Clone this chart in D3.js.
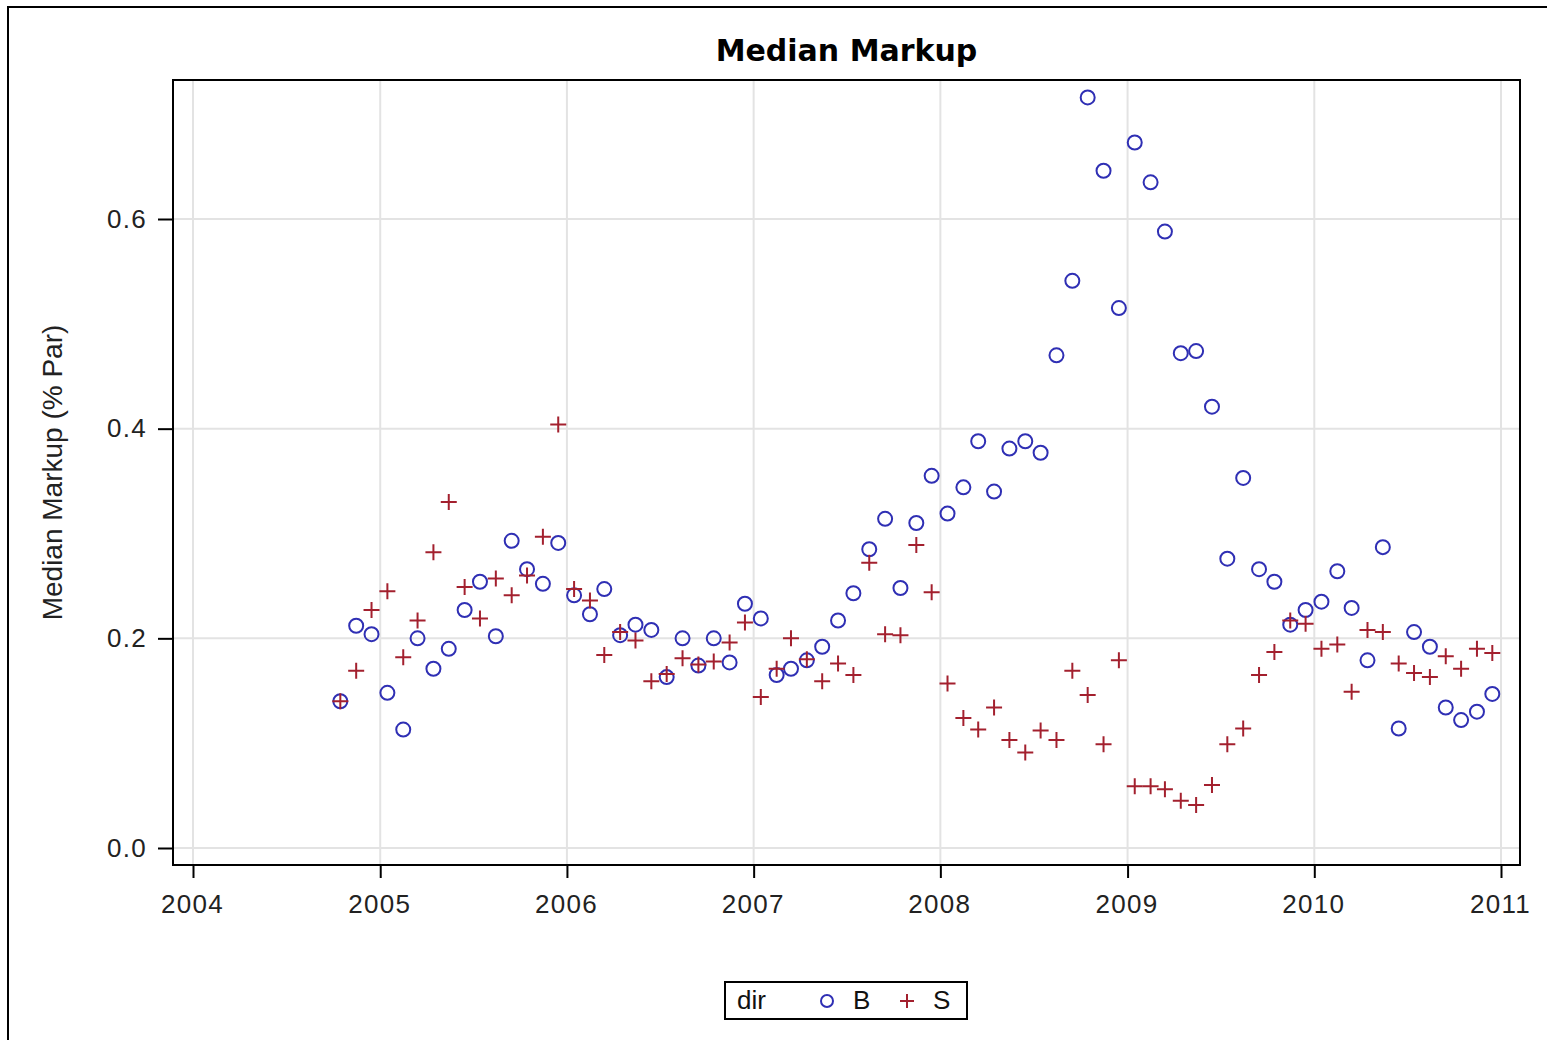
<!DOCTYPE html>
<html>
<head>
<meta charset="utf-8">
<script src="https://cdn.jsdelivr.net/npm/d3@7"></script>
<style>
  html, body { margin: 0; padding: 0; background: #fff; }
  svg { display: block; font-family: "Liberation Sans", Arial, sans-serif; }
</style>
</head>
<body>
<svg id="chart" width="1547" height="1040"></svg>
<script>
// Monthly observation dates (mid-month)
const months = [
  "2004-10","2004-11","2004-12",
  "2005-01","2005-02","2005-03","2005-04","2005-05","2005-06","2005-07","2005-08","2005-09","2005-10","2005-11","2005-12",
  "2006-01","2006-02","2006-03","2006-04","2006-05","2006-06","2006-07","2006-08","2006-09","2006-10","2006-11","2006-12",
  "2007-01","2007-02","2007-03","2007-04","2007-05","2007-06","2007-07","2007-08","2007-09","2007-10","2007-11","2007-12",
  "2008-01","2008-02","2008-03","2008-04","2008-05","2008-06","2008-07","2008-08","2008-09","2008-10","2008-11","2008-12",
  "2009-01","2009-02","2009-03","2009-04","2009-05","2009-06","2009-07","2009-08","2009-09","2009-10","2009-11","2009-12",
  "2010-01","2010-02","2010-03","2010-04","2010-05","2010-06","2010-07","2010-08","2010-09","2010-10","2010-11","2010-12"
];

// Median markup, buy side (B)
const buyMarkup = [
  0.140, 0.212, 0.204,
  0.148, 0.113, 0.200, 0.171, 0.190, 0.227, 0.254, 0.202, 0.293, 0.266, 0.252, 0.291,
  0.241, 0.223, 0.247, 0.203, 0.213, 0.208, 0.163, 0.200, 0.174, 0.200, 0.177, 0.233,
  0.219, 0.165, 0.171, 0.179, 0.192, 0.217, 0.243, 0.285, 0.314, 0.248, 0.310, 0.355,
  0.319, 0.344, 0.388, 0.340, 0.381, 0.388, 0.377, 0.470, 0.541, 0.716, 0.646, 0.515,
  0.673, 0.635, 0.588, 0.472, 0.474, 0.421, 0.276, 0.353, 0.266, 0.254, 0.213, 0.227,
  0.235, 0.264, 0.229, 0.179, 0.287, 0.114, 0.206, 0.192, 0.134, 0.122, 0.130, 0.147
];

// Median markup, sell side (S)
const sellMarkup = [
  0.140, 0.169, 0.227,
  0.245, 0.182, 0.217, 0.282, 0.330, 0.249, 0.219, 0.257, 0.241, 0.260, 0.297, 0.404,
  0.247, 0.236, 0.184, 0.206, 0.198, 0.159, 0.166, 0.181, 0.175, 0.178, 0.196, 0.215,
  0.144, 0.171, 0.200, 0.180, 0.159, 0.176, 0.165, 0.272, 0.204, 0.203, 0.289, 0.244,
  0.157, 0.124, 0.113, 0.134, 0.103, 0.091, 0.112, 0.103, 0.169, 0.146, 0.099, 0.179,
  0.059, 0.059, 0.056, 0.045, 0.041, 0.060, 0.099, 0.114, 0.165, 0.187, 0.217, 0.214,
  0.190, 0.194, 0.149, 0.208, 0.206, 0.176, 0.167, 0.163, 0.183, 0.171, 0.190, 0.186
];

const xTickYears = [2004, 2005, 2006, 2007, 2008, 2009, 2010, 2011];
const yTickValues = [0.0, 0.2, 0.4, 0.6];
const legendTitle = "dir";
const seriesNames = ["B", "S"];

const BLUE = "#2f2fb4";
const RED = "#a3202e";

const svg = d3.select("#chart");

// Outer graph border
svg.append("rect")
  .attr("x", 8).attr("y", 7)
  .attr("width", 1600).attr("height", 1100)
  .attr("fill", "none").attr("stroke", "#000").attr("stroke-width", 2);

// Plot frame
const frame = { left: 173, right: 1520, top: 80, bottom: 865 };

const parseMonth = d3.timeParse("%Y-%m");
const dates = months.map(m => { const d = parseMonth(m); d.setDate(15); return d; });

const x = d3.scaleTime()
  .domain([new Date(2004, 0, 1), new Date(2011, 0, 1)])
  .range([193, 1501]);
const y = d3.scaleLinear()
  .domain([0, 0.6])
  .range([848, 219]);

// Grid lines
const grid = svg.append("g");
grid.selectAll("line.vg").data(xTickYears).join("line")
  .attr("x1", d => x(new Date(d, 0, 1))).attr("x2", d => x(new Date(d, 0, 1)))
  .attr("y1", frame.top).attr("y2", frame.bottom)
  .attr("stroke", "#e3e3e3").attr("stroke-width", 2);
grid.selectAll("line.hg").data(yTickValues).join("line")
  .attr("x1", frame.left).attr("x2", frame.right)
  .attr("y1", d => y(d)).attr("y2", d => y(d))
  .attr("stroke", "#e3e3e3").attr("stroke-width", 2);

// Axes
const xAxis = d3.axisBottom(x)
  .tickValues(xTickYears.map(yy => new Date(yy, 0, 1)))
  .tickFormat(d3.timeFormat("%Y"))
  .tickSize(13).tickSizeOuter(0).tickPadding(16);
const gx = svg.append("g").attr("transform", `translate(0,${frame.bottom})`).call(xAxis);
gx.select(".domain").remove();
gx.selectAll(".tick line").attr("stroke", "#000").attr("stroke-width", 2);
gx.selectAll(".tick text")
  .style("font-family", "'Liberation Sans', Arial, sans-serif")
  .style("font-size", "26px").style("letter-spacing", "1.3px")
  .attr("fill", "#222").attr("dy", "0.72em").attr("dx", "-1");

const yAxis = d3.axisLeft(y)
  .tickValues(yTickValues)
  .tickFormat(d3.format(".1f"))
  .tickSize(15).tickSizeOuter(0).tickPadding(11);
const gy = svg.append("g").attr("transform", `translate(${frame.left},0)`).call(yAxis);
gy.select(".domain").remove();
gy.selectAll(".tick line").attr("stroke", "#000").attr("stroke-width", 2);
gy.selectAll(".tick text")
  .style("font-family", "'Liberation Sans', Arial, sans-serif")
  .style("font-size", "26px").style("letter-spacing", "1.3px")
  .attr("fill", "#222");

svg.append("rect")
  .attr("x", frame.left).attr("y", frame.top)
  .attr("width", frame.right - frame.left).attr("height", frame.bottom - frame.top)
  .attr("fill", "none").attr("stroke", "#000").attr("stroke-width", 2);

// Title and axis label
svg.append("text")
  .attr("x", (frame.left + frame.right) / 2).attr("y", 61)
  .attr("text-anchor", "middle")
  .style("font-family", "'DejaVu Sans', Verdana, sans-serif")
  .style("font-weight", "bold").style("font-size", "30px")
  .attr("fill", "#000")
  .text("Median Markup");

svg.append("text")
  .attr("transform", `translate(62,${(frame.top + frame.bottom) / 2}) rotate(-90)`)
  .attr("text-anchor", "middle")
  .style("font-size", "28px").attr("fill", "#222")
  .text("Median Markup (% Par)");

// Markers
const marks = svg.append("g");
marks.selectAll("circle.b").data(buyMarkup).join("circle")
  .attr("cx", (d, i) => x(dates[i])).attr("cy", d => y(d))
  .attr("r", 7).attr("fill", "none").attr("stroke", BLUE).attr("stroke-width", 2);

marks.selectAll("path.s").data(sellMarkup).join("path")
  .attr("transform", (d, i) => `translate(${x(dates[i])},${y(d)})`)
  .attr("d", "M-8,0H8M0,-8V8")
  .attr("fill", "none").attr("stroke", RED).attr("stroke-width", 2);

// Legend
const lg = svg.append("g");
lg.append("rect")
  .attr("x", 725).attr("y", 982).attr("width", 242).attr("height", 37)
  .attr("fill", "#fff").attr("stroke", "#000").attr("stroke-width", 2);
lg.append("text").attr("x", 737).attr("y", 1009).style("font-size", "26px").attr("fill", "#111").text(legendTitle);
lg.append("circle").attr("cx", 827).attr("cy", 1001).attr("r", 6)
  .attr("fill", "none").attr("stroke", BLUE).attr("stroke-width", 2);
lg.append("text").attr("x", 853).attr("y", 1009).style("font-size", "26px").attr("fill", "#111").text(seriesNames[0]);
lg.append("path").attr("transform", "translate(907,1001)").attr("d", "M-7,0H7M0,-7V7")
  .attr("stroke", RED).attr("stroke-width", 2);
lg.append("text").attr("x", 933).attr("y", 1009).style("font-size", "26px").attr("fill", "#111").text(seriesNames[1]);
</script>
</body>
</html>
